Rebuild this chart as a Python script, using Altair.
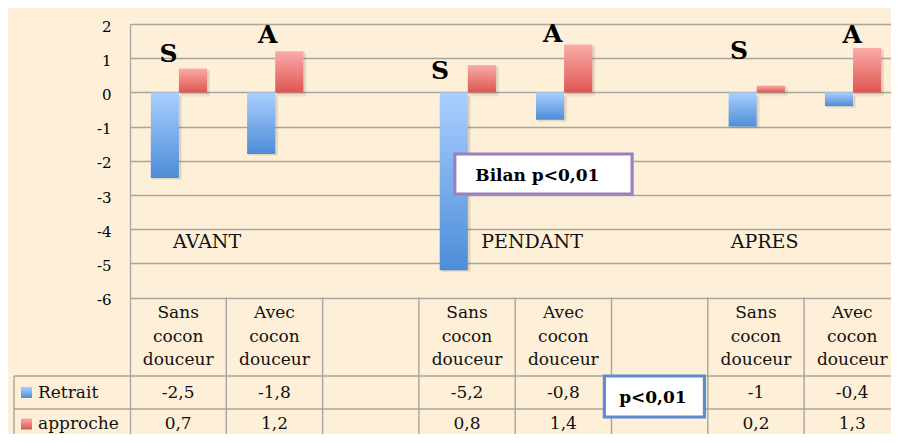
import altair as alt
import pandas as pd

# ---------------- data ----------------
categories = ["Sans cocon douceur", "Avec cocon douceur", "",
              "Sans cocon douceur", "Avec cocon douceur", "",
              "Sans cocon douceur", "Avec cocon douceur"]
retrait = [-2.5, -1.8, None, -5.2, -0.8, None, -1, -0.4]
approche = [0.7, 1.2, None, 0.8, 1.4, None, 0.2, 1.3]
series_names = ["Retrait", "approche"]
periods = ["AVANT", "PENDANT", "APRES"]
marker_letters = ["S", "A", "S", "A", "S", "A"]
marker_slots = [0, 1, 3, 4, 6, 7]
y_ticks = [-6, -5, -4, -3, -2, -1, 0, 1, 2]
test_labels = ["Bilan p<0,01", "p<0,01"]

# ---------------- layout / style ----------------
FONT = "DejaVu Serif"
BG = "#FEF0D8"
GRID = "#A9A49D"
COL = 96.3          # px per category slot
PXU = 34.2          # px per y unit
PAD_L, PAD_T = 122, 16
PLOT_W, PLOT_H = 761, 410
X_MAX = PLOT_W / COL
Y_MAX = 2
Y_MIN = Y_MAX - PLOT_H / PXU
Y0_PX = 8 + PAD_T + Y_MAX * PXU   # page pixel of the zero line


def xv(px):
    return (px - (8 + PAD_L)) / COL


def yv(px):
    return (Y0_PX - px) / PXU


BLUE_GRAD = alt.LinearGradient(
    gradient="linear", x1=0, x2=0, y1=0, y2=1,
    stops=[alt.GradientStop(color="#AACFFF", offset=0),
           alt.GradientStop(color="#4C8DD8", offset=1)])
RED_GRAD = alt.LinearGradient(
    gradient="linear", x1=0, x2=0, y1=0, y2=1,
    stops=[alt.GradientStop(color="#F9ABAA", offset=0),
           alt.GradientStop(color="#DF5650", offset=1)])

xs = alt.Scale(domain=[0, X_MAX], nice=False, zero=False)
ys = alt.Scale(domain=[Y_MIN, Y_MAX], nice=False, zero=False)

y_axis = alt.Axis(values=y_ticks, grid=True, gridColor=GRID, gridWidth=1.3,
                  domain=True, domainColor=GRID, domainWidth=1.3, ticks=False,
                  labelPadding=19, labelFont=FONT, labelFontSize=15,
                  labelColor="black", title=None, labelOffset=2,
                  labelExpr="'' + datum.value")


def X(f):
    return alt.X(f, type="quantitative", scale=xs, axis=None)


def Y(f):
    return alt.Y(f, type="quantitative", scale=ys, axis=y_axis)


# ---------------- build tables ----------------
BAR_W = 0.292
bar_rows = []
for i in range(len(categories)):
    for k, (name, vals) in enumerate(zip(series_names, [retrait, approche])):
        v = vals[i]
        if v is None:
            continue
        x0 = i + 0.216 + k * BAR_W
        bar_rows.append(dict(series=name, value=v, zero=0, x0=x0, x1=x0 + BAR_W))
bars_df = pd.DataFrame(bar_rows)

base = alt.Chart(bars_df)
shadow1 = base.mark_rect(color="#6b5a45", opacity=0.10, xOffset=2, x2Offset=3,
                         yOffset=2, y2Offset=4).encode(
    x=X("x0"), x2="x1", y=Y("value"), y2="zero")
shadow2 = base.mark_rect(color="#6b5a45", opacity=0.10, xOffset=1, x2Offset=2,
                         yOffset=1, y2Offset=2).encode(
    x=X("x0"), x2="x1", y=Y("value"), y2="zero")
blue = base.transform_filter(alt.datum.series == "Retrait").mark_rect(
    color=BLUE_GRAD).encode(x=X("x0"), x2="x1", y=Y("value"), y2="zero")
red = base.transform_filter(alt.datum.series == "approche").mark_rect(
    color=RED_GRAD).encode(x=X("x0"), x2="x1", y=Y("value"), y2="zero")

# S / A letters
letter_dx = [0.40, 0.43, 0.22, 0.39, 0.325, 0.50]
letter_y = [1.13, 1.68, 0.64, 1.70, 1.20, 1.68]
letters_df = pd.DataFrame(dict(t=marker_letters,
                               x=[s + d for s, d in zip(marker_slots, letter_dx)],
                               y=letter_y))
letters = alt.Chart(letters_df).mark_text(font=FONT, fontSize=25, fontWeight="bold",
                                          color="black", baseline="middle").encode(
    x=X("x"), y=Y("y"), text="t:N")

# period labels
periods_df = pd.DataFrame(dict(t=periods, x=[0.80, 4.175, 6.59], y=[-4.37] * 3))
period_txt = alt.Chart(periods_df).mark_text(font=FONT, fontSize=19, color="#111",
                                             baseline="middle").encode(
    x=X("x"), y=Y("y"), text="t:N")

# table geometry (page px)
ROW1_TOP, ROW2_TOP = 376, 409
LEG_LEFT = 14

rules_rows = []
for i in range(1, 8):
    rules_rows.append(dict(x=i, x2=i, y=-6, y2=Y_MIN))
rules_rows.append(dict(x=xv(LEG_LEFT), x2=xv(LEG_LEFT), y=yv(ROW1_TOP), y2=Y_MIN))
for r in (ROW1_TOP, ROW2_TOP):
    rules_rows.append(dict(x=xv(LEG_LEFT), x2=X_MAX, y=yv(r), y2=yv(r)))
rules = alt.Chart(pd.DataFrame(rules_rows)).mark_rule(color=GRID, strokeWidth=1.4).encode(
    x=X("x"), x2="x2", y=Y("y"), y2="y2")

# header cells (first line position; following lines flow down)
hdr_df = pd.DataFrame(dict(t=categories, x=[i + 0.5 for i in range(len(categories))],
                           y=[yv(313)] * len(categories)))
header = alt.Chart(hdr_df).mark_text(font=FONT, fontSize=17, color="#111",
                                     lineBreak=" ", lineHeight=23.5,
                                     baseline="middle").encode(
    x=X("x"), y=Y("y"), text="t:N")


def fr(v):
    return f"{v:g}".replace(".", ",")


val_rows = []
for i in range(len(categories)):
    if retrait[i] is not None:
        val_rows.append(dict(t=fr(retrait[i]), x=i + 0.5, y=yv(392.5)))
    if approche[i] is not None:
        val_rows.append(dict(t=fr(approche[i]), x=i + 0.5, y=yv(424)))
values_txt = alt.Chart(pd.DataFrame(val_rows)).mark_text(
    font=FONT, fontSize=17, color="#111", baseline="middle").encode(
    x=X("x"), y=Y("y"), text="t:N")

# legend column
leg_sq = pd.DataFrame(dict(series=series_names,
                           x=[xv(21)] * 2, x2=[xv(32)] * 2,
                           y=[yv(387), yv(418.5)], y2=[yv(398), yv(429.5)]))
leg_blue = alt.Chart(leg_sq).transform_filter(alt.datum.series == "Retrait").mark_rect(
    color=BLUE_GRAD).encode(x=X("x"), x2="x2", y=Y("y"), y2="y2")
leg_red = alt.Chart(leg_sq).transform_filter(alt.datum.series == "approche").mark_rect(
    color=RED_GRAD).encode(x=X("x"), x2="x2", y=Y("y"), y2="y2")
leg_txt_df = pd.DataFrame(dict(t=series_names, x=[xv(38)] * 2, y=[yv(392.5), yv(424)]))
leg_txt = alt.Chart(leg_txt_df).mark_text(font=FONT, fontSize=17, color="#111",
                                          align="left", baseline="middle").encode(
    x=X("x"), y=Y("y"), text="t:N")

# significance boxes
boxes_df = pd.DataFrame(dict(
    t=test_labels,
    x=[3.373, 4.926], x2=[5.214, 5.965],
    y=[yv(154), yv(ROW1_TOP)], y2=[yv(194), yv(417)],
    tx=[4.23, 5.43], ty=[yv(176), yv(398)],
    stroke=["#9A80BC", "#5A8ED0"]))
boxes = alt.Chart(boxes_df).mark_rect(fill="white", strokeWidth=3.2).encode(
    x=X("x"), x2="x2", y=Y("y"), y2="y2",
    stroke=alt.Stroke("stroke:N", scale=None))
box_txt = alt.Chart(boxes_df).mark_text(font=FONT, fontSize=17, fontWeight="bold",
                                        color="black", baseline="middle").encode(
    x=X("tx"), y=Y("ty"), text="t:N")

chart = alt.layer(
    shadow1, shadow2, blue, red, rules, letters, period_txt, header, values_txt,
    leg_blue, leg_red, leg_txt, boxes, box_txt
).properties(
    width=PLOT_W, height=PLOT_H,
    autosize=alt.AutoSizeParams(type="none"),
    padding={"left": PAD_L, "top": PAD_T, "right": 0, "bottom": 0},
    background=BG,
).configure_view(stroke=None)

chart.save("out.html", embed_options={"renderer": "svg", "actions": False})
